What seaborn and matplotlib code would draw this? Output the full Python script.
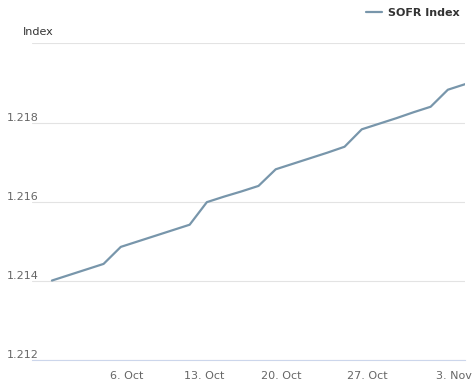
import matplotlib
matplotlib.use("Agg")
import matplotlib.pyplot as plt
import seaborn as sns
import numpy as np
import pandas as pd

# ─── Data (SOFR Index, business days, 13 Oct holiday skipped) ────────────────
dates = [
    "2025-09-30", "2025-10-01", "2025-10-02", "2025-10-03",
    "2025-10-06", "2025-10-07", "2025-10-08", "2025-10-09", "2025-10-10",
    "2025-10-14", "2025-10-15", "2025-10-16", "2025-10-17",
    "2025-10-20", "2025-10-21", "2025-10-22", "2025-10-23", "2025-10-24",
    "2025-10-27", "2025-10-28", "2025-10-29", "2025-10-30", "2025-10-31",
    "2025-11-03", "2025-11-04",
]
sofr_index = [
    1.21401, 1.21415, 1.21429, 1.21443,
    1.21486, 1.21500, 1.21514, 1.21528, 1.21542,
    1.21599, 1.21613, 1.21626, 1.21640,
    1.21682, 1.21696, 1.21710, 1.21724, 1.21739,
    1.21783, 1.21797, 1.21811, 1.21826, 1.21840,
    1.21883, 1.21897,
]
tick_dates = ["2025-10-06", "2025-10-13", "2025-10-20", "2025-10-27", "2025-11-03"]
tick_labels = ["6. Oct", "13. Oct", "20. Oct", "27. Oct", "3. Nov"]
y_ticks = [1.212, 1.214, 1.216, 1.218, 1.220]
y_labels = ["1.212", "1.214", "1.216", "1.218", ""]

LINE_COLOR = "#7896ab"
GRID_COLOR = "#e3e3e3"
AXIS_COLOR = "#ccd6eb"
TEXT_COLOR = "#666666"

sns.set_style("white")
plt.rcParams["font.family"] = ["DejaVu Sans"]

# ordinal axis: one slot per published value
df = pd.DataFrame({"date": pd.to_datetime(dates), "value": sofr_index})
df["pos"] = np.arange(len(df))

fig = plt.figure(figsize=(4.77, 3.91), dpi=100)
ax = fig.add_axes([0.067, 0.079, 0.908, 0.810])

sns.lineplot(data=df, x="pos", y="value", ax=ax, color=LINE_COLOR,
             linewidth=1.6, label="SOFR Index", legend=False)

# points sit 8h before local midnight -> interpolate week ticks onto slots
point_ts = (df["date"] - pd.Timedelta(hours=8)).astype("int64").to_numpy()
tick_ts = pd.to_datetime(tick_dates).astype("int64").to_numpy()
tick_pos = np.interp(tick_ts, point_ts, df["pos"].to_numpy())

ax.set_xlim(-1.16, len(df) - 1)
ax.set_ylim(y_ticks[0], y_ticks[-1])
ax.set_xticks(tick_pos)
ax.set_xticklabels(tick_labels, color=TEXT_COLOR, fontsize=8)
ax.set_yticks(y_ticks)
ax.set_yticklabels(y_labels, color=TEXT_COLOR, fontsize=8)
for lbl in ax.get_yticklabels():
    lbl.set_horizontalalignment("left")
    lbl.set_verticalalignment("bottom")
ax.tick_params(axis="y", length=0, pad=18)
ax.tick_params(axis="x", length=5, width=0.8, color=AXIS_COLOR, pad=3)

ax.grid(axis="y", color=GRID_COLOR, linewidth=0.8)
ax.grid(axis="x", visible=False)
for side in ["top", "right", "left"]:
    ax.spines[side].set_visible(False)
ax.spines["bottom"].set_color(AXIS_COLOR)
ax.spines["bottom"].set_linewidth(0.8)
ax.set_xlabel("")
ax.set_ylabel("")

fig.text(0.048, 0.918, "Index", fontsize=8, color="#333333", va="center")

handles, labels = ax.get_legend_handles_labels()
leg = fig.legend(handles, labels, loc="upper right", bbox_to_anchor=(0.985, 1.005),
                 frameon=False, handlelength=1.4, handletextpad=0.6,
                 prop={"size": 8, "weight": "bold"})
for t in leg.get_texts():
    t.set_color("#333333")

fig.savefig("out.png", dpi=100)
plt.close(fig)
